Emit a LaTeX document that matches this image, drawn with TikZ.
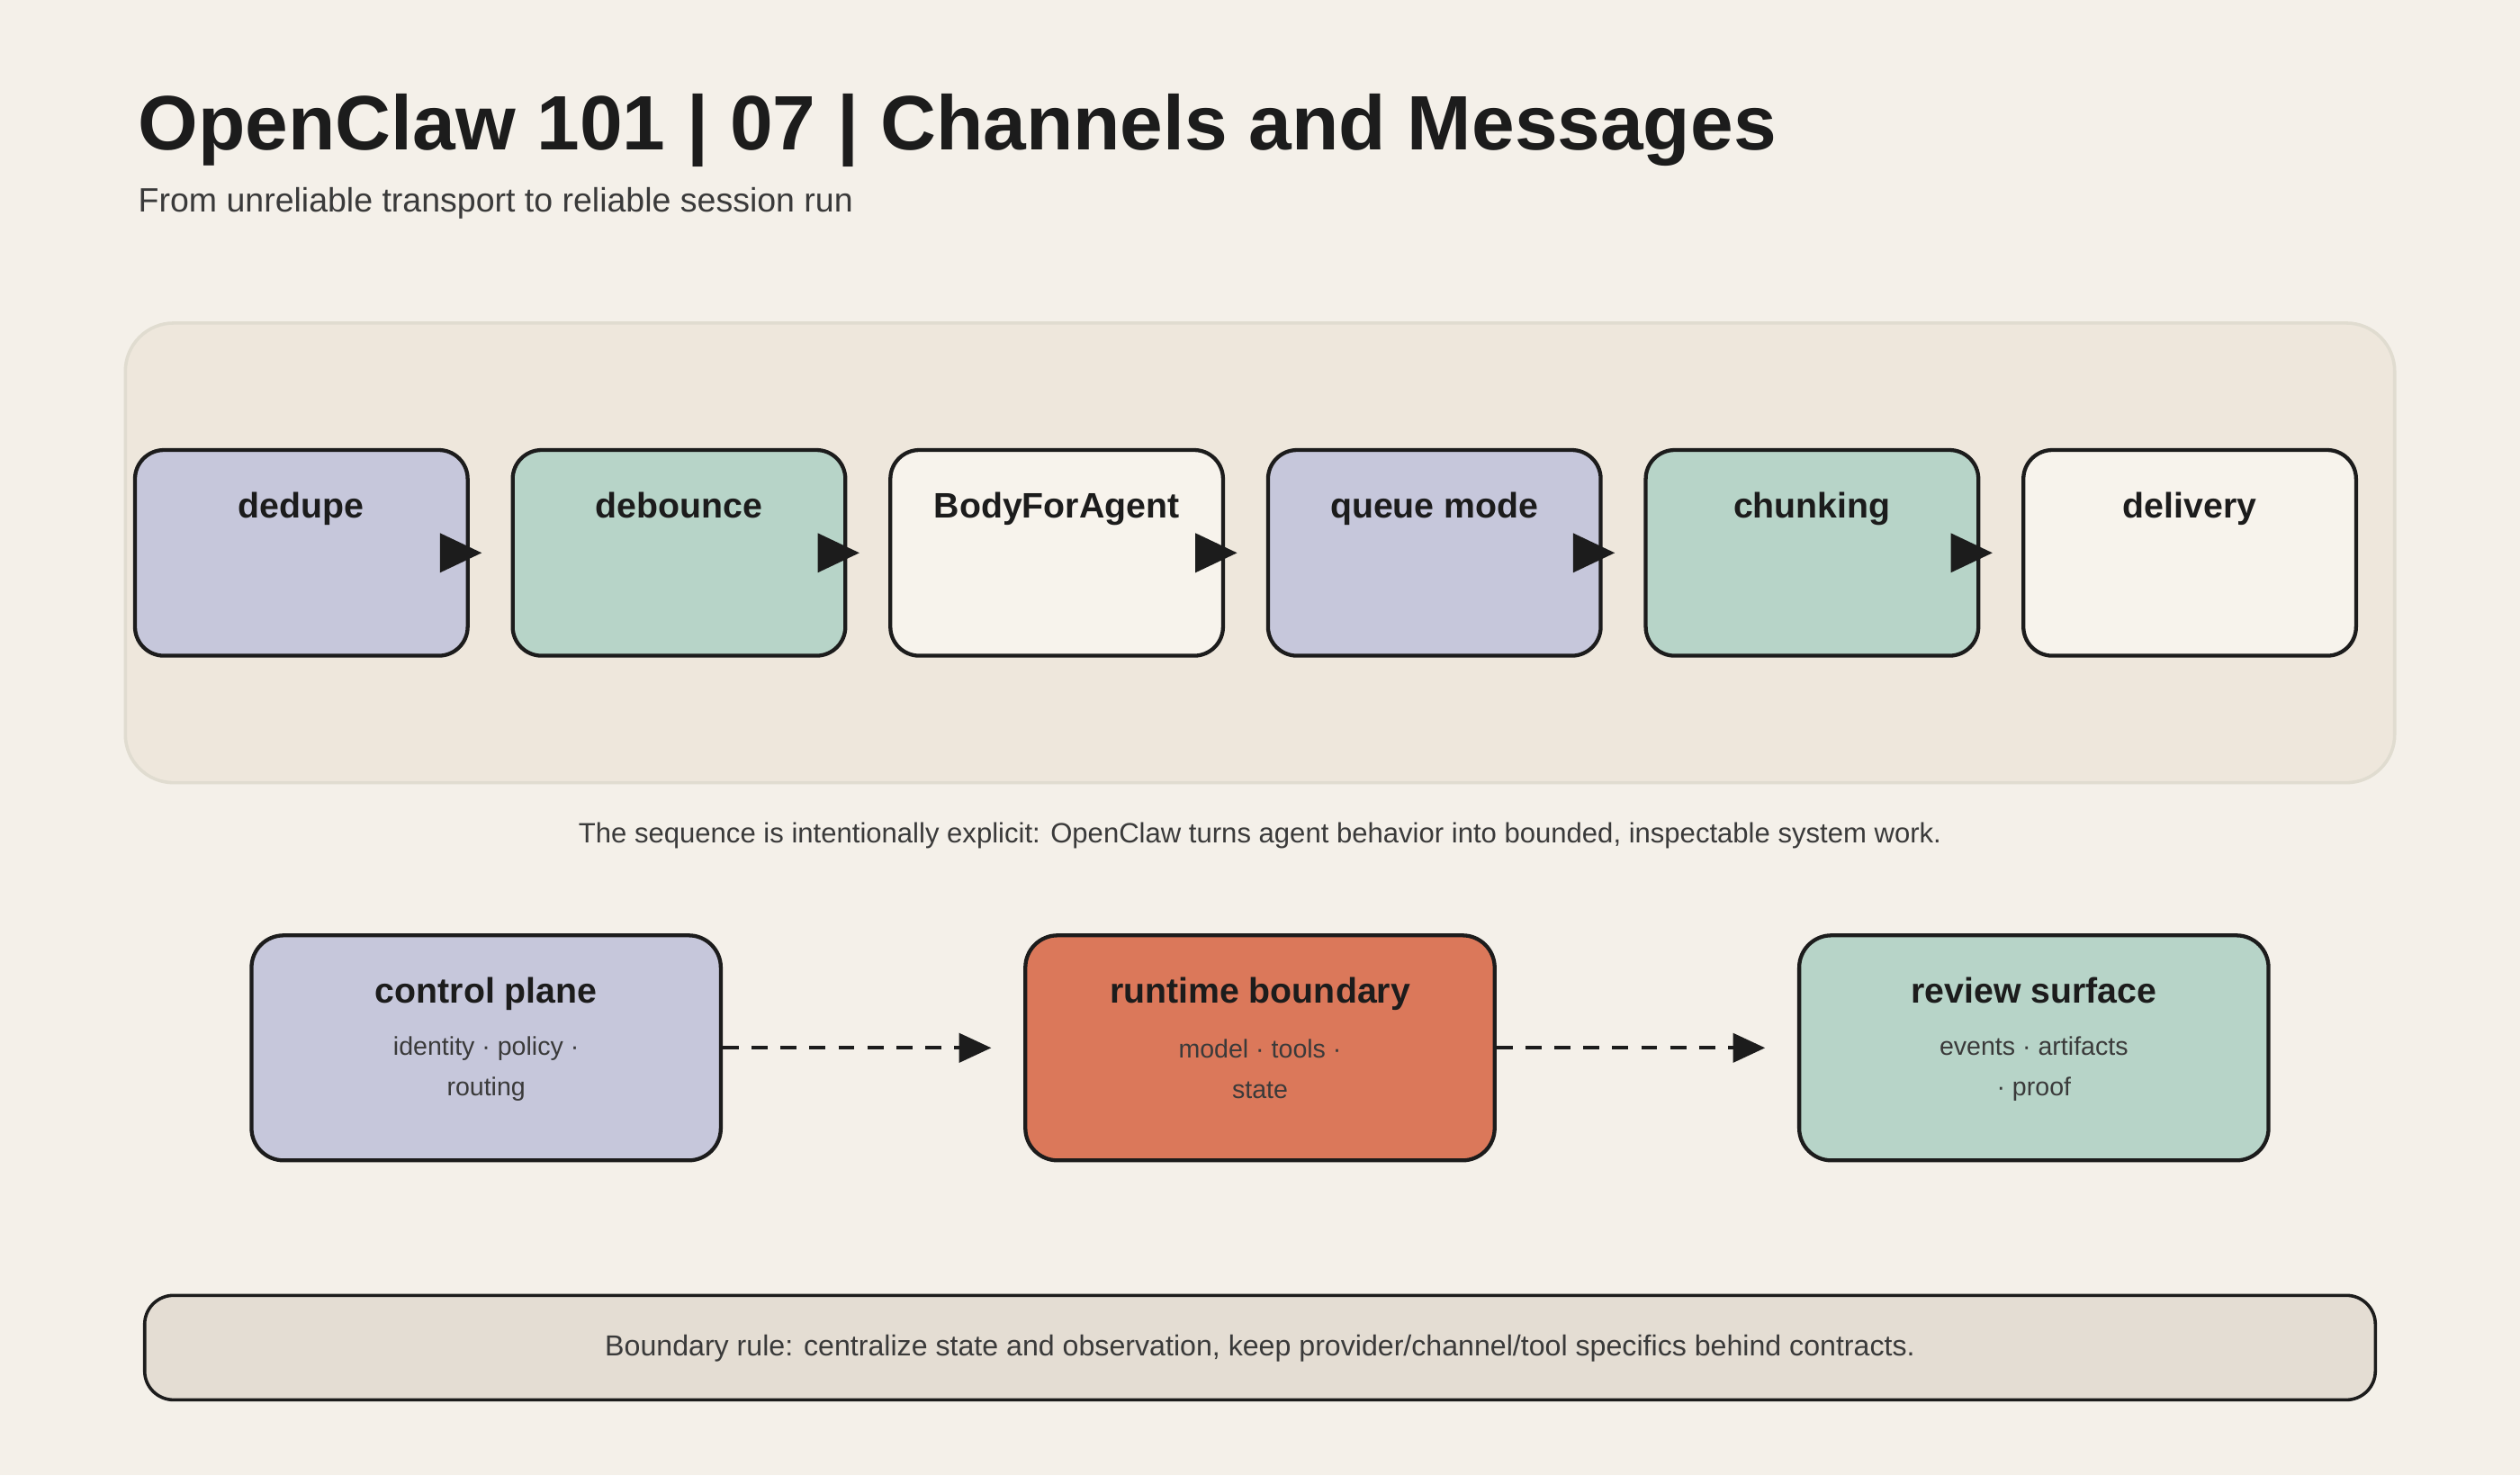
\documentclass[tikz,border=0pt]{standalone}
\usepackage{fontspec}
\setmainfont{Liberation Sans}
\usetikzlibrary{arrows.meta}
\definecolor{bg}{HTML}{F4F0E9}
\definecolor{panel}{HTML}{EEE7DC}
\definecolor{panelline}{HTML}{E0DCD0}
\definecolor{lav}{HTML}{C6C7DB}
\definecolor{grn}{HTML}{B7D4C8}
\definecolor{crm}{HTML}{F7F3EC}
\definecolor{org}{HTML}{DB785A}
\definecolor{foot}{HTML}{E4DDD3}
\definecolor{ink}{HTML}{1C1C1C}
\definecolor{txt}{HTML}{3A3A3A}
\begin{document}
\begin{tikzpicture}[x=0.5pt,y=-0.5pt,
  stage/.style={draw=ink,line width=1.2pt,rounded corners=9pt,minimum width=103.5pt,minimum height=64pt,inner sep=0pt},
  lab/.style={font=\fontsize{11}{13}\selectfont\bfseries,text=ink},
  big/.style={draw=ink,line width=1.2pt,rounded corners=10pt,minimum width=146pt,minimum height=70pt,inner sep=0pt},
  sub/.style={font=\fontsize{8}{12.5}\selectfont,text=txt,align=center},
  arr/.style={draw=ink,line width=1.2pt,-{Triangle[length=13pt,width=12pt]},shorten >=9pt},
  darr/.style={draw=ink,line width=1.1pt,dash pattern=on 5pt off 4pt,-{Triangle[length=10pt,width=9pt]},shorten >=10pt}]
\fill[bg] (0,0) rectangle (1568,918);
\useasboundingbox (0,0) rectangle (1568,918);
\node[anchor=base west,font=\fontsize{24}{28}\selectfont\bfseries,text=ink] (title) at (79,93) {OpenClaw 101 | 07 | Channels and Messages};
\node[anchor=base west,font=\fontsize{10.5}{12}\selectfont,text=txt] (subt) at (79,132) {From unreliable transport to reliable session run};
\draw[panelline,fill=panel,line width=1pt,rounded corners=15pt] (78,201) rectangle (1490,487);
\foreach \n/\x/\c/\t in {a/84/lav/dedupe,b/319/grn/debounce,c/554/crm/BodyForAgent,d/789/lav/queue mode,e/1024/grn/chunking,f/1259/crm/delivery}{
  \node[stage,fill=\c] (\n) at (\x+103.5,344) {};
  \node[lab,anchor=base] (\n l) at (\x+103.5,322) {\t};
}
\foreach \p/\q in {a/b,b/c,c/d,d/e,e/f}{\draw[arr] (\p.east) -- (\q.west);}
\node[font=\fontsize{8.7}{10}\selectfont,text=txt] (cap) at (784,520) {The sequence is intentionally explicit: OpenClaw turns agent behavior into bounded, inspectable system work.};
\node[big,fill=lav] (g) at (302.5,652) {};
\node[big,fill=org] (h) at (784,652) {};
\node[big,fill=grn] (i) at (1265.5,652) {};
\node[lab,anchor=base] at (302.5,624) {control plane};
\node[lab,anchor=base] at (784,624) {runtime boundary};
\node[lab,anchor=base] at (1265.5,624) {review surface};
\node[sub] at (302.5,665) {identity · policy ·\\routing};
\node[sub] at (784,665) {model · tools ·\\state};
\node[sub] at (1265.5,665) {events · artifacts\\· proof};
\draw[darr] (g.east) -- (h.west);
\draw[darr] (h.east) -- (i.west);
\draw[draw=ink,fill=foot,line width=1pt,rounded corners=9pt] (90,806) rectangle (1478,871);
\node[font=\fontsize{9}{10}\selectfont,text=txt] (ft) at (784,839) {Boundary rule: centralize state and observation, keep provider/channel/tool specifics behind contracts.};
\end{tikzpicture}
\end{document}
